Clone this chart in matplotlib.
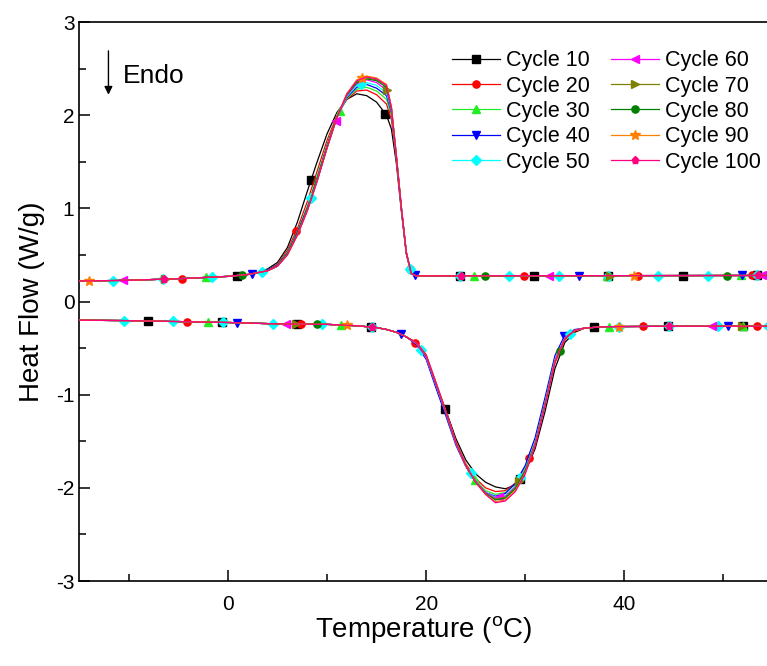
import numpy as np
import matplotlib
matplotlib.use("Agg")
import matplotlib.pyplot as plt
from matplotlib.ticker import MultipleLocator

plt.rcParams["font.family"] = ["Liberation Sans", "DejaVu Sans"]
plt.rcParams["axes.unicode_minus"] = False

cycles = ["Cycle 10", "Cycle 20", "Cycle 30", "Cycle 40", "Cycle 50",
          "Cycle 60", "Cycle 70", "Cycle 80", "Cycle 90", "Cycle 100"]
colors = ["#000000", "#FF0000", "#22EE22", "#0000FF", "#00FFFF",
          "#FF00FF", "#808000", "#008000", "#FF8000", "#FF0080"]
markers = ["s", "o", "^", "v", "D", "<", ">", "o", "*", "p"]

# cooling scan (upper curves): shared baseline + per-cycle peak region
cool_T_left = [-15, -10, -5, 0, 2, 3]
cool_y_left = [0.22, 0.228, 0.245, 0.27, 0.29, 0.31]
cool_T_peak = [4, 5, 6, 7, 8, 9, 10, 11, 12, 13, 14, 15, 16, 16.5, 17, 17.5, 18, 18.5]
cool_T_right = [19, 30, 40, 55]
cool_y_right = [0.275, 0.277, 0.278, 0.28]
cool_peak = [
    [0.35, 0.42, 0.58, 0.85, 1.18, 1.50, 1.80, 2.03, 2.17, 2.23, 2.21, 2.14, 2.00, 1.85, 1.48, 0.97, 0.51, 0.30],
    [0.34, 0.40, 0.55, 0.78, 1.07, 1.40, 1.73, 2.00, 2.17, 2.26, 2.27, 2.22, 2.12, 1.95, 1.52, 0.99, 0.52, 0.30],
    [0.34, 0.39, 0.53, 0.75, 1.02, 1.35, 1.69, 1.99, 2.18, 2.28, 2.30, 2.26, 2.17, 2.00, 1.53, 1.00, 0.52, 0.30],
    [0.34, 0.39, 0.52, 0.74, 1.00, 1.32, 1.67, 1.98, 2.19, 2.30, 2.33, 2.29, 2.21, 2.03, 1.54, 1.00, 0.52, 0.30],
    [0.33, 0.38, 0.51, 0.72, 0.98, 1.30, 1.65, 1.97, 2.20, 2.32, 2.35, 2.32, 2.24, 2.05, 1.55, 1.00, 0.52, 0.30],
    [0.33, 0.38, 0.51, 0.72, 0.98, 1.30, 1.65, 1.97, 2.21, 2.34, 2.38, 2.35, 2.27, 2.06, 1.55, 1.00, 0.52, 0.30],
    [0.33, 0.38, 0.51, 0.72, 0.98, 1.30, 1.65, 1.98, 2.22, 2.36, 2.40, 2.38, 2.32, 2.08, 1.56, 1.01, 0.53, 0.30],
    [0.33, 0.38, 0.51, 0.72, 0.98, 1.30, 1.65, 1.98, 2.22, 2.35, 2.39, 2.37, 2.30, 2.07, 1.56, 1.01, 0.53, 0.30],
    [0.33, 0.38, 0.50, 0.71, 0.97, 1.29, 1.65, 1.98, 2.23, 2.38, 2.42, 2.40, 2.33, 2.09, 1.57, 1.02, 0.53, 0.30],
    [0.33, 0.38, 0.50, 0.71, 0.97, 1.29, 1.65, 1.98, 2.23, 2.37, 2.41, 2.39, 2.32, 2.08, 1.56, 1.01, 0.53, 0.30],
]

# heating scan (lower curves)
heat_T_left = [-15, -10, -5, 0, 5, 10, 13, 15, 16, 17, 18]
heat_y_left = [-0.20, -0.205, -0.215, -0.225, -0.24, -0.245, -0.26, -0.28, -0.30, -0.33, -0.38]
heat_T_peak = [19, 20, 21, 22, 23, 24, 25, 26, 27, 28, 29, 30, 31, 32, 33, 34, 35]
heat_T_right = [36, 38, 45, 55]
heat_y_right = [-0.285, -0.27, -0.265, -0.265]
heat_peak = [
    [-0.45, -0.60, -0.89, -1.17, -1.47, -1.70, -1.85, -1.94, -1.99, -2.01, -1.97, -1.83, -1.58, -1.18, -0.72, -0.44, -0.33],
    [-0.45, -0.59, -0.88, -1.18, -1.50, -1.74, -1.90, -2.00, -2.04, -2.03, -1.95, -1.79, -1.52, -1.10, -0.66, -0.41, -0.32],
    [-0.45, -0.59, -0.89, -1.19, -1.51, -1.75, -1.92, -2.03, -2.07, -2.05, -1.96, -1.79, -1.51, -1.09, -0.64, -0.40, -0.31],
    [-0.46, -0.62, -0.93, -1.23, -1.54, -1.77, -1.94, -2.05, -2.09, -2.06, -1.95, -1.76, -1.46, -1.03, -0.58, -0.36, -0.30],
    [-0.45, -0.60, -0.90, -1.20, -1.52, -1.76, -1.93, -2.05, -2.10, -2.08, -1.98, -1.80, -1.51, -1.08, -0.62, -0.39, -0.31],
    [-0.45, -0.60, -0.90, -1.20, -1.52, -1.76, -1.93, -2.05, -2.11, -2.09, -1.99, -1.81, -1.52, -1.09, -0.63, -0.39, -0.31],
    [-0.44, -0.58, -0.88, -1.19, -1.51, -1.76, -1.94, -2.06, -2.12, -2.10, -2.00, -1.82, -1.53, -1.10, -0.64, -0.40, -0.31],
    [-0.44, -0.58, -0.88, -1.19, -1.51, -1.76, -1.94, -2.06, -2.13, -2.11, -2.01, -1.82, -1.53, -1.10, -0.64, -0.40, -0.31],
    [-0.44, -0.57, -0.87, -1.18, -1.51, -1.76, -1.94, -2.07, -2.15, -2.13, -2.03, -1.84, -1.54, -1.11, -0.64, -0.40, -0.31],
    [-0.44, -0.57, -0.87, -1.18, -1.51, -1.76, -1.94, -2.07, -2.16, -2.14, -2.04, -1.85, -1.55, -1.12, -0.65, -0.40, -0.31],
]

# marker spacing (deg C) and first marker temperature for each scan
mark_step = [7.5, 11.5, 13.5, 16.5, 5.0, 21.5, 22.5, 24.5, 27.5, 30.0]
cool_mark_start = [0.9, -4.6, -2.2, 2.4, -11.6, -10.6, -6.4, 1.4, -14.0, -6.5]
heat_mark_start = [-8.05, -4.1, -2.05, 0.95, -10.5, 5.9, 6.9, 8.96, 12.0, 14.5]

fig = plt.figure(figsize=(7.67, 6.66), dpi=100)
ax = fig.add_axes([0.1034, 0.1276, 0.8966, 0.8393])

for i, name in enumerate(cycles):
    ms = 7.5 if markers[i] == "*" else 5.2
    for T_l, y_l, T_p, y_p, T_r, y_r, start in (
        (cool_T_left, cool_y_left, cool_T_peak, cool_peak[i], cool_T_right, cool_y_right, cool_mark_start[i]),
        (heat_T_left, heat_y_left, heat_T_peak, heat_peak[i], heat_T_right, heat_y_right, heat_mark_start[i]),
    ):
        T = np.array(T_l + T_p + T_r, dtype=float)
        y = np.array(y_l + list(y_p) + y_r, dtype=float)
        ax.plot(T, y, color=colors[i], lw=0.9, zorder=2 + i)
        mT = np.arange(start, 55.01, mark_step[i])
        mT = mT[mT >= -15]
        ax.plot(mT, np.interp(mT, T, y), ls="none", marker=markers[i], ms=ms,
                color=colors[i], mec=colors[i], zorder=2 + i)
    ax.plot([], [], color=colors[i], lw=0.9, marker=markers[i], ms=ms, label=name)

ax.set_xlim(-15, 54.4)
ax.set_ylim(-3, 3)
ax.xaxis.set_major_locator(MultipleLocator(20))
ax.xaxis.set_minor_locator(MultipleLocator(10))
ax.yaxis.set_major_locator(MultipleLocator(1))
ax.yaxis.set_minor_locator(MultipleLocator(0.5))
ax.tick_params(which="both", direction="in", labelsize=15, width=1.1,
               top=False, right=False)
ax.tick_params(which="major", length=8)
ax.tick_params(which="minor", length=5)
ax.tick_params(axis="x", pad=10)
for side in ("left", "bottom", "top"):
    ax.spines[side].set_linewidth(1.2)
ax.spines["right"].set_visible(False)

ax.set_xlabel(r"Temperature ($\mathregular{^{o}}$C)", fontsize=20, labelpad=0)
ax.set_ylabel("Heat Flow (W/g)", fontsize=20, labelpad=8)

ax.annotate("", xy=(-12.06, 2.19), xytext=(-12.06, 2.72),
            arrowprops=dict(arrowstyle="-|>", color="k", lw=1, mutation_scale=12))
ax.text(-10.65, 2.42, "Endo", fontsize=19, va="center", ha="left")

ax.legend(loc="upper left", bbox_to_anchor=(0.536, 0.957), ncol=2, frameon=False,
          fontsize=15.5, handlelength=2.2, labelspacing=0.2, columnspacing=1.0,
          handletextpad=0.3, borderpad=0.2, borderaxespad=0)

fig.savefig("out.png", dpi=100)
